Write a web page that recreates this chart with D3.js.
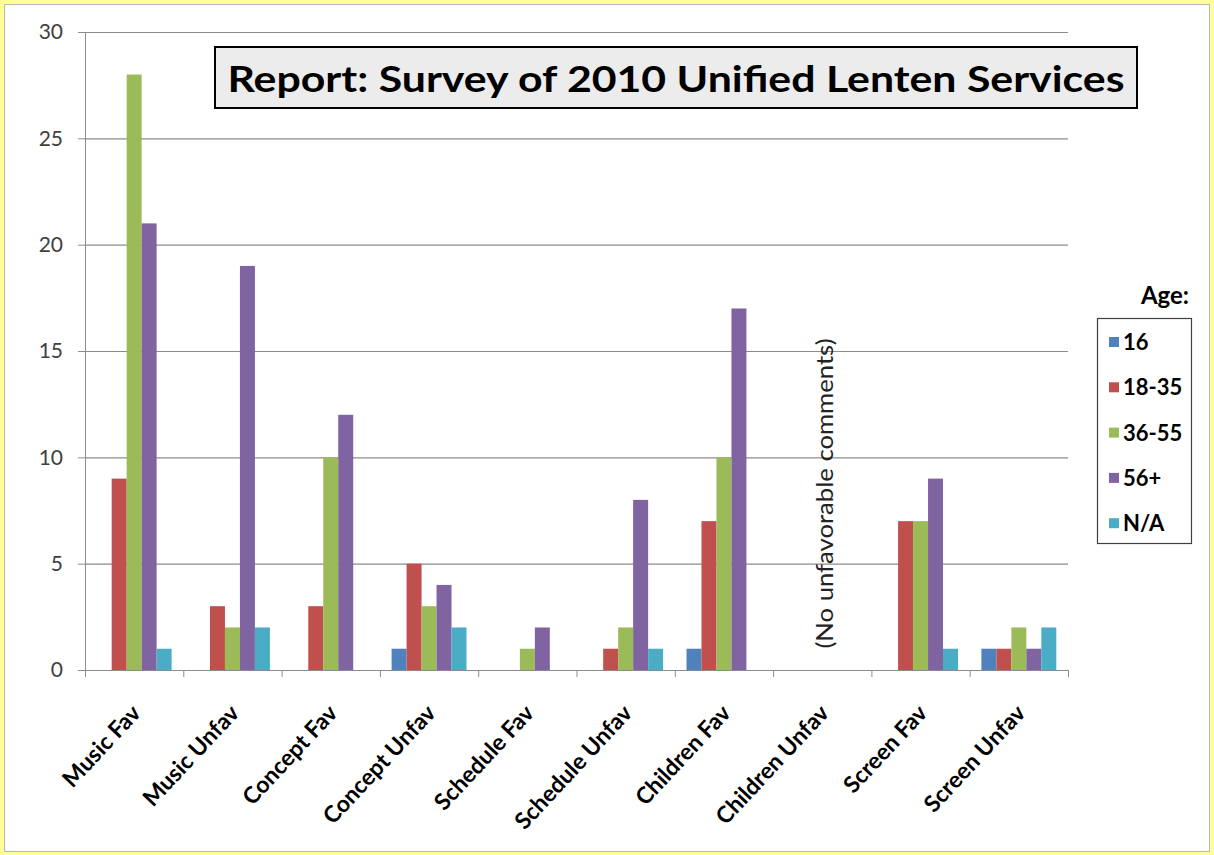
<!DOCTYPE html>
<html>
<head>
<meta charset="utf-8">
<script src="https://cdn.jsdelivr.net/npm/d3@7"></script>
<style>
  html, body { margin: 0; padding: 0; background: #ffff99; }
  svg { display: block; }
</style>
</head>
<body>
<div id="chart"></div>
<script>
// chart data
const categories = ["Music Fav", "Music Unfav", "Concept Fav", "Concept Unfav", "Schedule Fav",
                    "Schedule Unfav", "Children Fav", "Children Unfav", "Screen Fav", "Screen Unfav"];
const ageGroups = ["16", "18-35", "36-55", "56+", "N/A"];
const age16    = [0, 0, 0, 1, 0, 0, 1, 0, 0, 1];
const age18_35 = [9, 3, 3, 5, 0, 1, 7, 0, 7, 1];
const age36_55 = [28, 2, 10, 3, 1, 2, 10, 0, 7, 2];
const age56    = [21, 19, 12, 4, 2, 8, 17, 0, 9, 1];
const ageNA    = [1, 2, 0, 2, 0, 1, 0, 0, 1, 2];
const yTicks = [0, 5, 10, 15, 20, 25, 30];
const titleText = "Report: Survey of 2010 Unified Lenten Services";
const noteText = "(No unfavorable comments)";

const seriesValues = [age16, age18_35, age36_55, age56, ageNA];
const colors = ["#4f81bd", "#c0504d", "#9bbb59", "#8064a2", "#4bacc6"];

let svgWidth = 1214;
let svgHeight = 855;
let margin = { top: 32, left: 85 };
let width = 983;
let height = 638;

let svg = d3.select("#chart")
    .append("svg")
    .attr("width", svgWidth)
    .attr("height", svgHeight);

// white page with thin gray frame
svg.append("rect")
    .attr("x", 4.5).attr("y", 4.5)
    .attr("width", svgWidth - 9).attr("height", svgHeight - 8)
    .attr("fill", "#ffffff")
    .attr("stroke", "#b8b8b8");

let chartGroup = svg.append("g")
    .attr("transform", `translate(${margin.left}, ${margin.top})`);

// scales
let x0 = d3.scaleBand().domain(categories).range([0, width]);
let x1 = d3.scaleBand().domain(ageGroups).range([11.7, x0.bandwidth() - 11.7]);
let y = d3.scaleLinear().domain([0, 30]).range([height, 0]);

// gridlines
chartGroup.append("g")
    .selectAll("line")
    .data(yTicks.filter(d => d > 0))
    .enter()
    .append("line")
    .attr("x1", 0).attr("x2", width)
    .attr("y1", d => y(d) + 0.5).attr("y2", d => y(d) + 0.5)
    .attr("stroke", "#8c8c8c")
    .attr("stroke-width", 1.2);

// y axis
let yAxis = d3.axisLeft(y).tickValues(yTicks).tickSize(7).tickPadding(15);
let yG = chartGroup.append("g").call(yAxis);
yG.select(".domain").attr("stroke", "#8c8c8c");
yG.selectAll(".tick line").attr("stroke", "#8c8c8c");
yG.selectAll(".tick text")
    .attr("font-family", "Lato, 'Open Sans', sans-serif")
    .attr("font-size", "21px")
    .attr("fill", "#404040");

// bars
let groups = chartGroup.selectAll(".cat")
    .data(categories)
    .enter()
    .append("g")
    .attr("transform", d => `translate(${x0(d)}, 0)`);

groups.selectAll("rect")
    .data((d, i) => ageGroups.map((a, j) => ({ age: a, value: seriesValues[j][i], color: colors[j] })))
    .enter()
    .append("rect")
    .filter(d => d.value > 0)
    .attr("x", d => x1(d.age))
    .attr("y", d => y(d.value))
    .attr("width", x1.bandwidth())
    .attr("height", d => height - y(d.value))
    .attr("fill", d => d.color);

// x axis
let xAxis = d3.axisBottom(x0).tickSize(0).tickFormat("");
let xG = chartGroup.append("g")
    .attr("transform", `translate(0, ${height})`)
    .call(xAxis);
xG.select(".domain").attr("stroke", "#8c8c8c").attr("stroke-width", 1.2);

chartGroup.append("g")
    .selectAll("line")
    .data(d3.range(categories.length + 1))
    .enter()
    .append("line")
    .attr("x1", d => d * x0.step() + 0.5).attr("x2", d => d * x0.step() + 0.5)
    .attr("y1", height).attr("y2", height + 7)
    .attr("stroke", "#8c8c8c");

// category labels
chartGroup.append("g")
    .selectAll("text")
    .data(categories)
    .enter()
    .append("text")
    .attr("transform", d => `translate(${x0(d) + x0.bandwidth() / 2 + 8}, ${height + 44}) rotate(-47)`)
    .attr("text-anchor", "end")
    .attr("font-family", "Lato, 'Open Sans', sans-serif")
    .attr("font-weight", "bold")
    .attr("font-size", "23px")
    .attr("fill", "#000")
    .text(d => d);

// note for empty category
chartGroup.append("text")
    .attr("transform", `translate(${x0("Children Unfav") + x0.bandwidth() / 2 + 11}, ${y(8.3)}) rotate(-90)`)
    .attr("text-anchor", "middle")
    .attr("font-family", "Lato, 'Open Sans', sans-serif")
    .attr("font-size", "23px")
    .attr("textLength", 310)
    .attr("lengthAdjust", "spacingAndGlyphs")
    .attr("fill", "#222")
    .text(noteText);

// title box
svg.append("rect")
    .attr("x", 215).attr("y", 47)
    .attr("width", 922).attr("height", 61)
    .attr("fill", "#ececec")
    .attr("stroke", "#000")
    .attr("stroke-width", 2);

svg.append("text")
    .attr("x", 676).attr("y", 92)
    .attr("text-anchor", "middle")
    .attr("font-family", "Lato, 'Open Sans', sans-serif")
    .attr("font-weight", "bold")
    .attr("font-size", "37px")
    .attr("textLength", 897)
    .attr("lengthAdjust", "spacingAndGlyphs")
    .attr("fill", "#000")
    .text(titleText);

// legend
svg.append("text")
    .attr("x", 1189).attr("y", 304)
    .attr("text-anchor", "end")
    .attr("font-family", "Lato, 'Open Sans', sans-serif")
    .attr("font-weight", "bold")
    .attr("font-size", "24px")
    .attr("fill", "#000")
    .text("Age:");

svg.append("rect")
    .attr("x", 1097.5).attr("y", 318.5)
    .attr("width", 94).attr("height", 225)
    .attr("fill", "#fff")
    .attr("stroke", "#404040")
    .attr("stroke-width", 1.2);

let legend = svg.append("g")
    .selectAll("g")
    .data(ageGroups)
    .enter()
    .append("g")
    .attr("transform", (d, i) => `translate(1109, ${342 + i * 45.3})`);

legend.append("rect")
    .attr("x", 0).attr("y", -5)
    .attr("width", 10).attr("height", 10)
    .attr("fill", (d, i) => colors[i]);

legend.append("text")
    .attr("x", 14).attr("y", 8)
    .attr("font-family", "Lato, 'Open Sans', sans-serif")
    .attr("font-weight", "bold")
    .attr("font-size", "22px")
    .attr("fill", "#000")
    .text(d => d);
</script>
</body>
</html>
